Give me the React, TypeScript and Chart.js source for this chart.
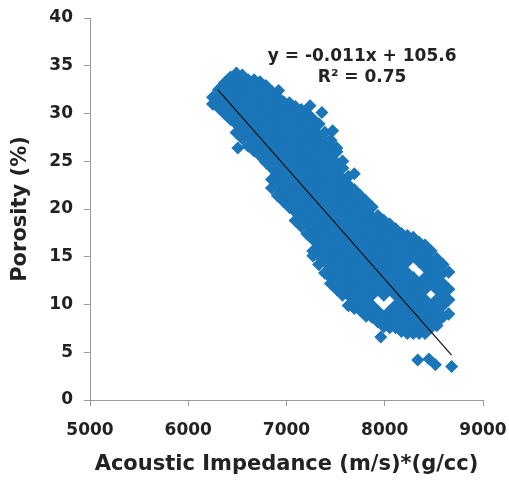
import React, { useEffect, useRef } from "react";
import { Chart, registerables } from "chart.js";

Chart.register(...registerables);

// Axis ticks
const xMin = 5000;
const xMax = 9000;
const xStep = 1000;
const yMin = 0;
const yMax = 40;
const yStep = 5;

// Scatter cloud, column by column (impedance -> porosities)
const impedanceColumns = [
  6250, 6310, 6370, 6430, 6490, 6550, 6610, 6670, 6730, 6790,
  6850, 6910, 6970, 7030, 7090, 7150, 7210, 7270, 7330, 7390,
  7450, 7510, 7570, 7630, 7690, 7750, 7810, 7870, 7930, 7990,
  8050, 8110, 8170, 8230, 8290, 8350, 8410, 8470, 8530, 8590, 8650,
];
const porosityColumns = [
  [31.0, 31.7],
  [30.6, 31.7, 32.5],
  [30.0, 31.2, 32.3, 33.2],
  [29.4, 30.6, 31.7, 32.9, 33.8],
  [28.0, 28.9, 30.0, 31.2, 32.3, 33.5, 34.2],
  [27.4, 28.3, 29.4, 30.6, 31.7, 32.9, 34.0],
  [26.6, 27.7, 28.9, 30.0, 31.2, 32.3, 33.5],
  [26.1, 27.1, 28.3, 29.4, 30.6, 31.7, 32.9, 33.5],
  [25.6, 26.6, 27.7, 28.9, 30.0, 31.2, 32.3, 33.3],
  [24.9, 26.0, 27.1, 28.3, 29.4, 30.6, 31.7, 32.9],
  [22.2, 23.1, 24.3, 25.4, 26.6, 27.7, 28.9, 30.0, 31.2, 32.3],
  [21.4, 22.5, 23.7, 24.8, 26.0, 27.1, 28.3, 29.4, 30.6, 31.7],
  [20.8, 22.0, 23.1, 24.3, 25.4, 26.6, 27.7, 28.9, 30.0, 31.2],
  [20.2, 21.4, 22.5, 23.7, 24.8, 26.0, 27.1, 28.3, 29.4, 30.6, 31.1],
  [18.8, 19.7, 20.8, 22.0, 23.1, 24.3, 25.4, 26.6, 27.7, 28.9, 30.0, 30.7],
  [18.2, 19.1, 20.2, 21.4, 22.5, 23.7, 24.8, 26.0, 27.1, 28.3, 29.4, 30.4],
  [17.4, 18.5, 19.7, 20.8, 22.0, 23.1, 24.3, 25.4, 26.6, 27.7, 28.9, 30.0],
  [15.1, 15.6, 16.8, 17.9, 19.1, 20.2, 21.4, 22.5, 23.7, 24.8, 26.0, 27.1, 28.3, 29.4],
  [14.2, 15.1, 16.2, 17.4, 18.5, 19.7, 20.8, 22.0, 23.1, 24.3, 25.4, 26.6, 27.7, 28.9],
  [13.3, 14.5, 15.6, 16.8, 17.9, 19.1, 20.2, 21.4, 22.5, 23.7, 24.8, 26.0, 27.1, 28.0],
  [12.2, 12.8, 13.9, 15.1, 16.2, 17.4, 18.5, 19.7, 20.8, 22.0, 23.1, 24.3, 25.4, 26.6, 27.2],
  [11.6, 12.2, 13.3, 14.5, 15.6, 16.8, 17.9, 19.1, 20.2, 21.4, 22.5, 23.7, 24.8, 26.0, 26.4],
  [11.0, 11.6, 12.8, 13.9, 15.1, 16.2, 17.4, 18.5, 19.7, 20.8, 22.0, 23.1, 24.3, 25.0],
  [9.9, 11.0, 12.2, 13.3, 14.5, 15.6, 16.8, 17.9, 19.1, 20.2, 21.4, 22.5, 23.4],
  [9.6, 10.5, 11.6, 12.8, 13.9, 15.1, 16.2, 17.4, 18.5, 19.7, 20.8, 22.0],
  [9.4, 9.9, 11.0, 12.2, 13.3, 14.5, 15.6, 16.8, 17.9, 19.1, 20.2, 21.4],
  [8.8, 9.3, 10.5, 11.6, 12.8, 13.9, 15.1, 16.2, 17.4, 18.5, 19.7, 20.8],
  [8.7, 9.9, 11.0, 12.2, 13.3, 14.5, 15.6, 16.8, 17.9, 19.1, 20.2],
  [8.2, 9.3, 11.6, 12.8, 13.9, 15.1, 16.2, 17.4, 18.5, 19.3],
  [7.7, 8.7, 11.0, 12.2, 13.3, 14.5, 15.6, 16.8, 17.9, 18.8],
  [7.6, 8.2, 9.3, 11.6, 12.8, 13.9, 15.1, 16.2, 17.4, 18.4],
  [7.6, 8.7, 9.9, 11.0, 12.2, 13.3, 14.5, 15.6, 16.8, 17.9],
  [7.2, 8.2, 9.3, 10.5, 11.6, 12.8, 13.9, 15.1, 16.2, 17.4],
  [7.0, 7.6, 8.7, 9.9, 11.0, 12.2, 13.3, 14.5, 15.6, 16.8, 17.2],
  [7.0, 8.2, 9.3, 10.5, 11.6, 12.8, 15.1, 16.2, 17.0],
  [7.0, 7.6, 8.7, 9.9, 11.0, 12.2, 14.5, 15.6, 16.5],
  [7.0, 8.2, 9.3, 10.5, 11.6, 12.8, 13.9, 15.1, 16.2],
  [7.6, 8.7, 9.9, 12.2, 13.3, 14.5, 15.6],
  [7.8, 8.2, 9.3, 10.5, 11.6, 12.8, 13.9, 14.8],
  [8.7, 9.9, 11.0, 12.2, 13.3, 14.2],
  [9.0, 10.5, 11.6, 13.4],
];

// Isolated points around the cloud
const outlierImpedance = [6505, 6920, 7240, 7360, 7470, 7690, 7960, 8336, 8450, 8515, 8681];
const outlierPorosity = [26.4, 32.4, 30.8, 30.1, 28.2, 23.7, 6.6, 4.2, 4.3, 3.7, 3.5];

// Trend line as drawn
const trendImpedance = [6300, 8680];
const trendPorosity = [32.5, 4.7];

// Equation annotation
const equationText = "y = -0.011x + 105.6";
const r2Text = "R² = 0.75";
const annotationImpedance = 7770;
const annotationPorosity = [36.0, 33.8];

const xTitle = "Acoustic Impedance (m/s)*(g/cc)";
const yTitle = "Porosity (%)";

const FONT = '"DejaVu Sans", "Liberation Sans", sans-serif';
const TEXT = "#222222";
const AXIS = "#9a9a9a";
const BLUE = "#1a76b8";

export default function App() {
  const ref = useRef<HTMLCanvasElement>(null);

  useEffect(() => {
    document.body.style.margin = "0";
    const canvas = ref.current;
    if (!canvas) return;

    const body: { x: number; y: number }[] = [];
    impedanceColumns.forEach((x, i) => {
      porosityColumns[i].forEach((y) => body.push({ x, y }));
    });
    const outliers = outlierImpedance.map((x, i) => ({ x, y: outlierPorosity[i] }));
    const trend = trendImpedance.map((x, i) => ({ x, y: trendPorosity[i] }));

    const annotation = {
      id: "equation",
      afterDatasetsDraw(chart: any) {
        const { ctx, scales } = chart;
        const px = scales.x.getPixelForValue(annotationImpedance);
        ctx.save();
        ctx.font = `bold 17px ${FONT}`;
        ctx.fillStyle = TEXT;
        ctx.textAlign = "center";
        ctx.textBaseline = "middle";
        ctx.fillText(equationText, px, scales.y.getPixelForValue(annotationPorosity[0]));
        ctx.fillText(r2Text, px, scales.y.getPixelForValue(annotationPorosity[1]));
        ctx.restore();
      },
    };

    const tickFont = { family: FONT, size: 17, weight: "bold" as const };
    const titleFont = { family: FONT, size: 21, weight: "bold" as const };

    const chart = new Chart(canvas, {
      type: "scatter",
      data: {
        datasets: [
          {
            type: "line",
            data: trend,
            borderColor: "#111111",
            borderWidth: 1.2,
            pointRadius: 0,
            fill: false,
            order: 0,
          } as any,
          {
            type: "scatter",
            data: body,
            pointStyle: "rectRot",
            pointRadius: 6.8,
            backgroundColor: BLUE,
            borderColor: BLUE,
            borderWidth: 0,
            order: 1,
          } as any,
          {
            type: "scatter",
            data: outliers,
            pointStyle: "rectRot",
            pointRadius: 6.5,
            backgroundColor: BLUE,
            borderColor: BLUE,
            borderWidth: 0,
            order: 2,
          } as any,
        ],
      },
      options: {
        animation: false,
        responsive: false,
        devicePixelRatio: 1,
        layout: { padding: { top: 18, right: 26, left: 0, bottom: 0 } },
        plugins: {
          legend: { display: false },
          tooltip: { enabled: false },
        },
        scales: {
          x: {
            type: "linear",
            min: xMin,
            max: xMax,
            ticks: {
              stepSize: xStep,
              padding: 14,
              font: tickFont,
              color: TEXT,
              callback: (v: any) => String(v),
            },
            grid: { drawOnChartArea: false, drawTicks: true, tickLength: 6, color: AXIS },
            border: { display: true, color: AXIS, width: 1 },
            title: {
              display: true,
              text: xTitle,
              font: titleFont,
              color: TEXT,
              padding: { top: 0, bottom: 3 },
            },
            afterFit: (s: any) => {
              s.height = 80;
              s.paddingLeft = 0;
              s.paddingRight = 0;
            },
          },
          y: {
            type: "linear",
            min: yMin,
            max: yMax,
            ticks: {
              stepSize: yStep,
              padding: 11,
              font: tickFont,
              color: TEXT,
              callback: (v: any) => String(v),
            },
            grid: { drawOnChartArea: false, drawTicks: true, tickLength: 6, color: AXIS },
            border: { display: true, color: AXIS, width: 1 },
            title: {
              display: true,
              text: yTitle,
              font: titleFont,
              color: TEXT,
              padding: { top: 8, bottom: 0 },
            },
            afterFit: (s: any) => {
              s.width = 90;
              s.paddingTop = 0;
              s.paddingBottom = 0;
            },
          },
        },
      },
      plugins: [annotation],
    });

    return () => chart.destroy();
  }, []);

  return (
    <div style={{ position: "absolute", left: 0, top: 0, width: 509, height: 480, background: "#ffffff" }}>
      <canvas ref={ref} width={509} height={480} style={{ display: "block" }} />
    </div>
  );
}
